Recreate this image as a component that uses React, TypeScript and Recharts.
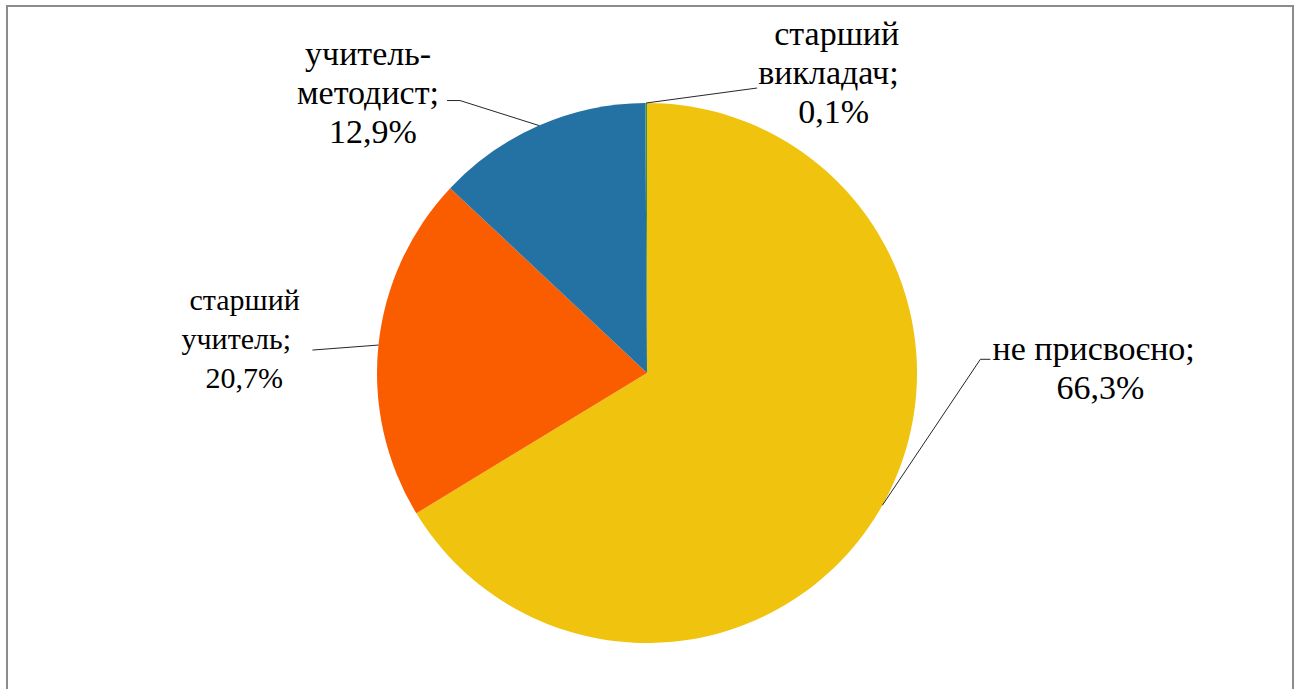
// Pedagogical rank distribution pie — recharts.

import { PieChart, Pie, Cell } from "recharts";

const categories = ["не присвоєно", "старший учитель", "учитель-методист", "старший викладач"];
const shares = [66.3, 20.7, 12.9, 0.1];
const labelLines = [
  ["не присвоєно;", "66,3%"],
  ["старший", "учитель;", "20,7%"],
  ["учитель-", "методист;", "12,9%"],
  ["старший", "викладач;", "0,1%"],
];

const COLORS = ["#F0C30F", "#F95D00", "#2472A4", "#3F8F4F"];

// leader/label placement relative to the slice's outer-edge midpoint
const LABEL_LAYOUT = [
  { elbow: [98, -146], tail: [108, -146], text: [214, -145] },
  { elbow: [-66, 5], tail: [-66, 5], text: [-133, -35] },
  { elbow: [-79, -25], tail: [-92, -25], text: [-170, -61] },
  { elbow: [111, -15], tail: [111, -15], text: [184, -58] },
];

const LINE_GAP = 39;

const data = categories.map((name, i) => ({ name, value: shares[i] }));

const RAD = Math.PI / 180;

function edgePoint(p: any) {
  return [
    p.cx + p.outerRadius * Math.cos(-p.midAngle * RAD),
    p.cy + p.outerRadius * Math.sin(-p.midAngle * RAD),
  ];
}

function renderLeader(p: any) {
  const [px, py] = edgePoint(p);
  const l = LABEL_LAYOUT[p.index];
  const pts = [
    [px, py],
    [px + l.elbow[0], py + l.elbow[1]],
    [px + l.tail[0], py + l.tail[1]],
  ];
  return (
    <polyline
      key={`ll-${p.index}`}
      points={pts.map((q) => q.join(",")).join(" ")}
      fill="none"
      stroke="#262626"
      strokeWidth={1}
    />
  );
}

function renderLabel(p: any) {
  const [px, py] = edgePoint(p);
  const l = LABEL_LAYOUT[p.index];
  const tx = px + l.text[0];
  const ty = py + l.text[1];
  return (
    <g key={`lb-${p.index}`}>
      {labelLines[p.index].map((line, j) => (
        <text
          key={j}
          x={tx}
          y={ty + j * LINE_GAP}
          dx={-(line.length * 34 * 0.235)}
          fontFamily="Liberation Serif"
          fontSize={p.index === 1 ? 30 : 34}
          fill="#000"
        >
          {line}
        </text>
      ))}
    </g>
  );
}

export default function App() {
  return (
    <div
      style={{
        position: "absolute",
        left: 0,
        top: 0,
        width: 1302,
        height: 689,
        background: "#fff",
      }}
    >
      <div
        style={{
          position: "absolute",
          left: 6,
          top: 5,
          width: 1284,
          height: 690,
          border: "2px solid #8c8c8c",
        }}
      />
      <div style={{ position: "absolute", left: 0, top: 0 }}>
        <PieChart width={1302} height={689} margin={{ top: 0, right: 0, bottom: 0, left: 0 }}>
          <Pie
            data={data}
            dataKey="value"
            nameKey="name"
            cx={647}
            cy={373}
            outerRadius={270}
            startAngle={90}
            endAngle={-270}
            stroke="none"
            label={renderLabel}
            labelLine={renderLeader}
            isAnimationActive={false}
          >
            {data.map((d, i) => (
              <Cell key={d.name} fill={COLORS[i]} />
            ))}
          </Pie>
        </PieChart>
      </div>
    </div>
  );
}
